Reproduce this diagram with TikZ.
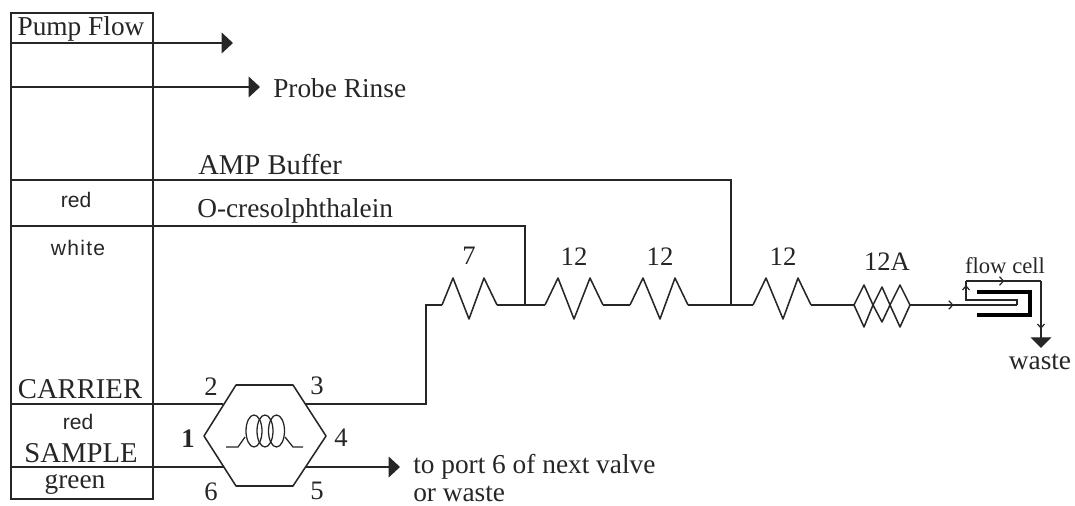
\documentclass[tikz,border=0pt]{standalone}
\usepackage{fontspec}
\setmainfont{Liberation Serif}
\newfontfamily\lblsans{Liberation Sans}
\usetikzlibrary{arrows.meta,decorations.markings}
\tikzset{
  ln/.style={line width=1.15pt,black!85},
  fine/.style={line width=.95pt,black!85},
  bigtip/.style={-{Triangle[length=8.5pt,width=15.5pt]}},
  thick cell/.style={line width=2.4pt,black},
  lbl/.style={inner sep=0pt,font=\fontsize{20.5}{22}\selectfont,text=black!85},
  port/.style={inner sep=0pt,font=\fontsize{20}{22}\selectfont,text=black!85},
  small/.style={inner sep=0pt,font=\fontsize{17}{19}\selectfont,text=black!85},
  sanslbl/.style={inner sep=0pt,font=\lblsans\fontsize{15.8}{18}\selectfont,text=black!85},
  tiny tick/.style={postaction={decorate,decoration={markings,mark=at position #1 with {\draw[line width=.9pt,black!85] (-3pt,3.2pt) -- (0,0) -- (-3pt,-3.2pt);}}}}
}
\begin{document}
\begin{tikzpicture}[x=0.75pt,y=-0.75pt]
\useasboundingbox (0,0) rectangle (1075,506);
\fill[white] (0,0) rectangle (1075,506);
% pump table
\coordinate (tl) at (11,13); \coordinate (tr) at (153,13);
\coordinate (bl) at (11,499); \coordinate (br) at (153,499);
\draw[ln] (tl) rectangle (br);
\coordinate (r1l) at (11,43);  \coordinate (r1r) at (153,43);
\coordinate (r2l) at (11,87);
\coordinate (r3l) at (11,180); \coordinate (r3r) at (153,180);
\coordinate (r4l) at (11,226); \coordinate (r4r) at (153,226);
\coordinate (r5l) at (11,404); \coordinate (r5r) at (153,404);
\draw[ln] (r1l) -- (r1r);
\draw[ln] (r3l) -- (r3r);
\draw[ln] (r4l) -- (r4r);
\draw[ln] (r5l) -- (r5r);
% table labels
\node[lbl] (pf) at (81,29) {Pump Flow};
\node[sanslbl] (tred) at (76,200) {red};
\node[sanslbl] (twhite) at (78,248) {\addfontfeature{LetterSpace=6}white};
\node[lbl,font=\fontsize{21.5}{22}\selectfont] (tcar) at (80,389) {CARRIER};
\node[sanslbl] (tred2) at (78,422) {red};
\node[lbl,font=\fontsize{21.5}{22}\selectfont] (tsam) at (81,453) {SAMPLE};
\node[lbl] (tgrn) at (75,484) {green};
% free arrows
\coordinate (pfend) at (233,43);
\coordinate (prend) at (260,87);
\draw[ln,bigtip] (r1r) -- (pfend);
\draw[ln,bigtip] (r2l) -- (prend);
\node[lbl,anchor=west] (probe) at (273,88) {Probe Rinse};
\node[lbl,anchor=west,font=\fontsize{21.5}{22}\selectfont] (amp) at (198,165) {AMP Buffer};
\node[lbl,anchor=west] (ocr) at (197,211) {O-cresolphthalein};
% valve
\coordinate (v1) at (204,436); \coordinate (v2) at (236,385); \coordinate (v3) at (293,385);
\coordinate (v4) at (326,436); \coordinate (v5) at (293,486); \coordinate (v6) at (236,486);
\draw[ln,line join=round] (v1) -- (v2) -- (v3) -- (v4) -- (v5) -- (v6) -- cycle;
\coordinate (vin2) at (223,404); \coordinate (vout3) at (305,404);
\coordinate (vin1) at (11,467); \coordinate (vin1e) at (224,467);
\coordinate (vout5) at (305,467); \coordinate (vend) at (400,467);
\draw[ln] (r5r) -- (vin2);
\draw[ln] (vin1) -- (vin1e);
\draw[ln,bigtip] (vout5) -- (vend);
% coil
\draw[fine] (226,447) -- (238,447) -- (245,437);
\draw[fine] (285,437) -- (293,447) -- (303,447);
\draw[fine] (254,431) ellipse (8 and 16);
\draw[fine] (265,431) ellipse (8 and 16);
\draw[fine] (276.5,431) ellipse (8 and 16);
% port numbers
\node[port] (p2) at (211,387) {2};
\node[port] (p3) at (317,386) {3};
\node[port,font=\bfseries\fontsize{20}{22}\selectfont] (p1) at (188,439) {1};
\node[port] (p4) at (341,438) {4};
\node[port] (p6) at (211,492) {6};
\node[port] (p5) at (317,491) {5};
\node[lbl,anchor=west] (next) at (413,467) {to port 6 of next valve};
\node[lbl,anchor=west] (orw) at (413,494) {or waste};
% main line
\coordinate (c1) at (426,404); \coordinate (c2) at (426,305);
\coordinate (z7a) at (442,305); \coordinate (z7b) at (497,305);
\coordinate (j1) at (525,305); \coordinate (j1t) at (525,226);
\coordinate (z12a) at (545,305); \coordinate (z12b) at (603,305);
\coordinate (z12c) at (630,305); \coordinate (z12d) at (688,305);
\coordinate (j2) at (731,305); \coordinate (j2t) at (731,180);
\coordinate (z12e) at (753,305); \coordinate (z12f) at (811,305);
\coordinate (da) at (854,305); \coordinate (db) at (910,305);
\draw[ln] (vout3) -- (c1) -- (c2) -- (z7a);
\draw[ln,line join=round] (z7a) -- (453,278) -- (469,319) -- (484,278) -- (z7b);
\draw[ln] (z7b) -- (z12a);
\draw[ln,line join=round] (z12a) -- (558,278) -- (574,319) -- (590,278) -- (z12b);
\draw[ln] (z12b) -- (z12c);
\draw[ln,line join=round] (z12c) -- (643,278) -- (660,319) -- (675,278) -- (z12d);
\draw[ln] (z12d) -- (z12e);
\draw[ln,line join=round] (z12e) -- (766,278) -- (783,319) -- (798,278) -- (z12f);
\draw[ln] (z12f) -- (da);
\draw[ln] (r4r) -- (j1t) -- (j1);
\draw[ln] (r3r) -- (j2t) -- (j2);
\node[port] (l7) at (469,256) {7};
\node[port] (l12a) at (574,257) {12};
\node[port] (l12b) at (660,257) {12};
\node[port] (l12c) at (783,257) {12};
\node[port] (l12d) at (887,262) {12A};
% diamonds
\draw[ln,line join=round] (854,305) -- (864,285) -- (873,305) -- (864,327) -- cycle;
\draw[ln,line join=round] (873,305) -- (882,287) -- (890,305) -- (882,322) -- cycle;
\draw[ln,line join=round] (890,305) -- (900,285) -- (910,305) -- (900,327) -- cycle;
% flow cell
\coordinate (fin) at (1017,305); \coordinate (fa) at (1017,300);
\coordinate (fb) at (966,300); \coordinate (fc) at (966,281);
\coordinate (fd) at (1041,281); \coordinate (fe) at (1041,348);
\draw[ln,tiny tick=.40] (db) -- (fin);
\draw[fine] (fin) -- (fa) -- (fb) -- (fc);
\draw[fine,tiny tick=.5] (fc) -- (fd);
\draw[line width=.9pt,black!85] (962.5,290) -- (966,286) -- (969.5,290);
\draw[fine,-{Triangle[length=8pt,width=15.5pt]}] (fd) -- (fe);
\draw[line width=.9pt,black!85] (1037.5,324) -- (1041,328) -- (1044.5,324);
\draw[thick cell] (977,292) -- (1030,292) -- (1030,315) -- (977,315);
\node[small] (fcl) at (1005,266) {flow cell};
\node[lbl] (wst) at (1040,362) {waste};
\end{tikzpicture}
\end{document}
